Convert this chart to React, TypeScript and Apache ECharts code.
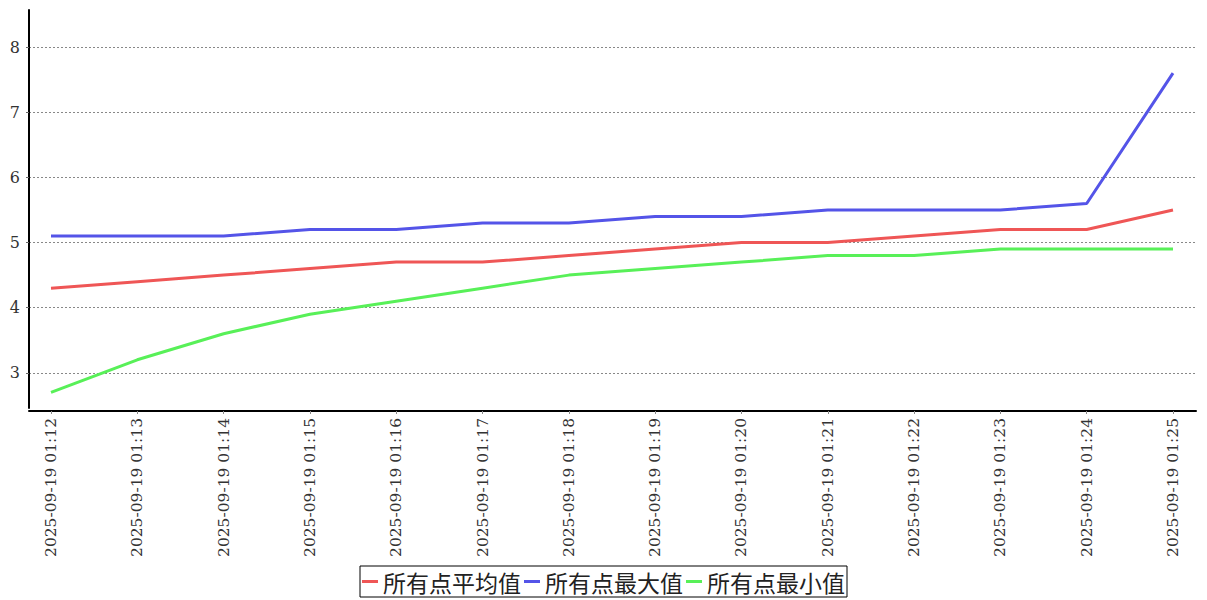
import React, { useEffect, useRef } from "react";
import * as echarts from "echarts";

const categories = [
  "2025-09-19 01:12", "2025-09-19 01:13", "2025-09-19 01:14", "2025-09-19 01:15",
  "2025-09-19 01:16", "2025-09-19 01:17", "2025-09-19 01:18", "2025-09-19 01:19",
  "2025-09-19 01:20", "2025-09-19 01:21", "2025-09-19 01:22", "2025-09-19 01:23",
  "2025-09-19 01:24", "2025-09-19 01:25",
];
const avgValues = [4.3, 4.4, 4.5, 4.6, 4.7, 4.7, 4.8, 4.9, 5.0, 5.0, 5.1, 5.2, 5.2, 5.5];
const maxValues = [5.1, 5.1, 5.1, 5.2, 5.2, 5.3, 5.3, 5.4, 5.4, 5.5, 5.5, 5.5, 5.6, 7.6];
const minValues = [2.7, 3.2, 3.6, 3.9, 4.1, 4.3, 4.5, 4.6, 4.7, 4.8, 4.8, 4.9, 4.9, 4.9];
const yTicks = [3, 4, 5, 6, 7, 8];
const seriesNames = ["所有点平均值", "所有点最大值", "所有点最小值"];

const Y_MIN = 2.46;
const Y_MAX = 8.57;
const FONT = "DejaVu Serif";

export default function App() {
  const ref = useRef<HTMLDivElement>(null);
  useEffect(() => {
    if (!ref.current) return;
    const chart = echarts.init(ref.current, null, { renderer: "svg" });
    const mk = (name: string, data: number[], color: string) => ({
      name,
      type: "line",
      xAxisIndex: 0,
      yAxisIndex: 0,
      data,
      showSymbol: false,
      symbol: "none",
      lineStyle: { width: 3, color },
      itemStyle: { color },
    });
    chart.setOption({
      animation: false,
      backgroundColor: "#ffffff",
      grid: [
        { left: 51, right: 34, top: 10, bottom: 192 },
        { left: 29, right: 11, top: 10, bottom: 192 },
      ],
      xAxis: [
        {
          type: "category",
          gridIndex: 0,
          data: categories,
          boundaryGap: false,
          offset: 3,
          axisLine: { show: false },
          axisTick: { show: true, length: 3, lineStyle: { color: "#888" } },
          axisLabel: {
            rotate: 90,
            interval: 0,
            margin: 7,
            fontFamily: FONT,
            fontSize: 15.5,
            color: "#333",
          },
          splitLine: { show: false },
        },
        {
          type: "value",
          gridIndex: 1,
          min: 0,
          max: 1,
          offset: 3,
          axisLine: { show: true, lineStyle: { color: "#000", width: 2 } },
          axisTick: { show: false },
          axisLabel: { show: false },
          splitLine: { show: false },
        },
      ],
      yAxis: [
        {
          type: "value",
          gridIndex: 0,
          min: Y_MIN,
          max: Y_MAX,
          show: false,
          splitLine: { show: false },
        },
        {
          type: "value",
          gridIndex: 1,
          min: Y_MIN,
          max: Y_MAX,
          offset: 3,
          axisLine: { show: true, lineStyle: { color: "#000", width: 2 } },
          axisTick: { show: true, length: 3, customValues: yTicks, lineStyle: { color: "#666" } },
          axisLabel: {
            showMinLabel: false,
            showMaxLabel: false,
            formatter: (v: number) => (yTicks.indexOf(v) >= 0 ? String(v) : ""),
            margin: 6,
            fontFamily: FONT,
            fontSize: 16,
            color: "#333",
          },
          splitLine: {
            show: true,
            lineStyle: { color: "#888", width: 1, type: [2, 2] },
          },
        },
      ],
      legend: {
        data: seriesNames,
        left: "center",
        top: 566,
        orient: "horizontal",
        icon: "rect",
        itemWidth: 16,
        itemHeight: 3,
        itemGap: 3,
        padding: [4, 2],
        borderColor: "#000",
        borderWidth: 1,
        textStyle: {
          fontSize: 23,
          color: "#222",
          fontFamily: "'Noto Sans CJK SC', serif",
        },
      },
      series: [
        mk(seriesNames[0], avgValues, "#ef5656"),
        mk(seriesNames[1], maxValues, "#5454e8"),
        mk(seriesNames[2], minValues, "#58f058"),
      ],
    });
    return () => chart.dispose();
  }, []);
  return <div ref={ref} style={{ width: 1207, height: 600, position: "absolute", left: 0, top: 0 }} />;
}
